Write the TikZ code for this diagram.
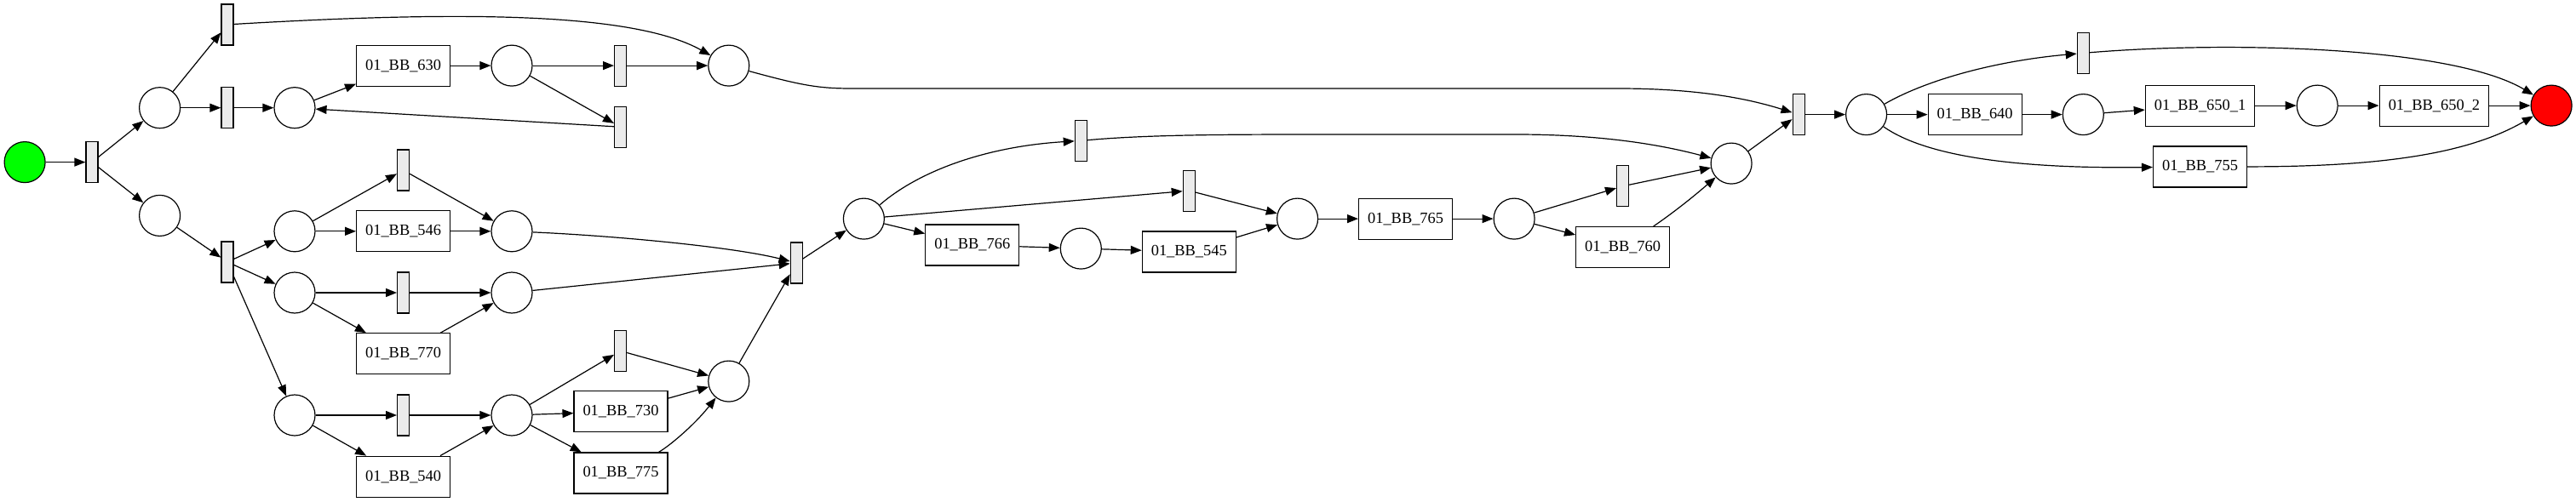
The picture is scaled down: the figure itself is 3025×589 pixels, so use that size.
\documentclass[tikz,border=0pt]{standalone}
\usepackage{fontspec}
\setmainfont{Liberation Serif}
\usetikzlibrary{arrows.meta}
\begin{document}
\begin{tikzpicture}[x=0.5pt,y=-0.5pt,
    every node/.style={font=\fontsize{9.2pt}{11pt}\selectfont},
    place/.style={circle,draw,line width=0.6pt,minimum size=24pt,inner sep=0pt},
    silent/.style={rectangle,draw,line width=0.6pt,fill=black!8,minimum width=7pt,minimum height=24pt,inner sep=0pt},
    task/.style={rectangle,draw,line width=0.6pt,minimum height=24pt,inner xsep=5.25pt,inner ysep=0pt},
    flow/.style={-{Triangle[length=6.5pt,width=5pt]},line width=0.6pt}]
  \useasboundingbox (0,0) rectangle (3025,589);
  \node[place,fill=green] (source) at (29.1,190.6) {};
  \node[silent] (t0) at (108,190.6) {};
  \node[place] (p1) at (187.6,126.7) {};
  \node[place] (p2) at (187.6,253.4) {};
  \node[silent] (t1) at (267,28.9) {};
  \node[silent] (t2) at (267,126.7) {};
  \node[place] (p3) at (346,126.7) {};
  \node[task] (bb630) at (473.6,77.1) {01\_BB\_630};
  \node[place] (p4) at (601,77.1) {};
  \node[silent] (t3) at (728.6,77.1) {};
  \node[silent] (t4) at (728.6,149.2) {};
  \node[place] (p5) at (855.8,77.1) {};
  \node[silent] (t5) at (267,307.9) {};
  \node[place] (p6) at (346,271.8) {};
  \node[silent] (t6) at (473.6,200) {};
  \node[task] (bb546) at (473.6,271.8) {01\_BB\_546};
  \node[place] (p7) at (601,271.8) {};
  \node[place] (p8) at (346,344) {};
  \node[silent] (t7) at (473.6,344) {};
  \node[place] (p9) at (601,344) {};
  \node[task] (bb770) at (473.6,415.8) {01\_BB\_770};
  \node[place] (p10) at (346,488) {};
  \node[silent] (t8) at (473.6,488) {};
  \node[place] (p11) at (601,488) {};
  \node[task] (bb540) at (473.6,560.2) {01\_BB\_540};
  \node[silent] (t9) at (728.6,412.4) {};
  \node[task] (bb730) at (729,483.8) {01\_BB\_730};
  \node[task] (bb775) at (729,556) {01\_BB\_775};
  \node[place] (p12) at (855.8,448.1) {};
  \node[silent] (t10) at (935.3,309) {};
  \node[place] (p13) at (1014.4,257.1) {};
  \node[silent] (t11) at (1269.3,165.4) {};
  \node[silent] (t12) at (1396.3,224.1) {};
  \node[task] (bb766) at (1141.8,288) {01\_BB\_766};
  \node[place] (p14) at (1269.3,292.1) {};
  \node[task] (bb545) at (1396.3,295.9) {01\_BB\_545};
  \node[place] (p15) at (1523.6,257.1) {};
  \node[task] (bb765) at (1650.6,257.1) {01\_BB\_765};
  \node[place] (p16) at (1778.1,257.1) {};
  \node[silent] (t13) at (1905.6,218.8) {};
  \node[task] (bb760) at (1905.6,290.6) {01\_BB\_760};
  \node[place] (p17) at (2033.1,192.1) {};
  \node[silent] (t14) at (2112.1,134.6) {};
  \node[place] (p18) at (2191.6,134.6) {};
  \node[silent] (t15) at (2446.3,62.4) {};
  \node[task] (bb640) at (2319.1,134.6) {01\_BB\_640};
  \node[place] (p19) at (2446.3,134.6) {};
  \node[task] (bb6501) at (2583.5,124.1) {01\_BB\_650\_1};
  \node[place] (p20) at (2721.2,124.1) {};
  \node[task] (bb6502) at (2858.4,124.1) {01\_BB\_650\_2};
  \node[place,fill=red] (sink) at (2996.1,124.1) {};
  \node[task] (bb755) at (2583.5,195.9) {01\_BB\_755};

  \draw[flow] (source) -- (t0);
  \draw[flow] (t0) -- (p1);
  \draw[flow] (t0) -- (p2);
  \draw[flow] (p1) -- (t1);
  \draw[flow] (p1) -- (t2);
  \draw[flow] (t2) -- (p3);
  \draw[flow] (p3) -- (bb630);
  \draw[flow] (bb630) -- (p4);
  \draw[flow] (p4) -- (t3);
  \draw[flow] (p4) -- (t4);
  \draw[flow] (t4) -- (p3);
  \draw[flow] (t3) -- (p5);
  \draw[flow] (t1) .. controls (520,14) and (740,12) .. (p5);
  \draw[flow] (p2) -- (t5);
  \draw[flow] (t5) -- (p6);
  \draw[flow] (t5) -- (p8);
  \draw[flow] (t5) -- (p10);
  \draw[flow] (p6) -- (t6);
  \draw[flow] (p6) -- (bb546);
  \draw[flow] (t6) -- (p7);
  \draw[flow] (bb546) -- (p7);
  \draw[flow] (p8) -- (t7);
  \draw[flow] (p8) -- (bb770);
  \draw[flow] (t7) -- (p9);
  \draw[flow] (bb770) -- (p9);
  \draw[flow] (p7) .. controls (720,277) and (860,290) .. (t10);
  \draw[flow] (p9) -- (t10);
  \draw[flow] (p10) -- (t8);
  \draw[flow] (p10) -- (bb540);
  \draw[flow] (t8) -- (p11);
  \draw[flow] (bb540) -- (p11);
  \draw[flow] (p11) -- (t9);
  \draw[flow] (p11) -- (bb730);
  \draw[flow] (p11) -- (bb775);
  \draw[flow] (t9) -- (p12);
  \draw[flow] (bb730) -- (p12);
  \draw[flow] (bb775) .. controls (785,525) and (815,500) .. (p12);
  \draw[flow] (p12) -- (t10);
  \draw[flow] (t10) -- (p13);
  \draw[flow] (p13) .. controls (1080,200) and (1160,172) .. (t11);
  \draw[flow] (p13) -- (t12);
  \draw[flow] (p13) -- (bb766);
  \draw[flow] (bb766) -- (p14);
  \draw[flow] (p14) -- (bb545);
  \draw[flow] (t12) -- (p15);
  \draw[flow] (bb545) -- (p15);
  \draw[flow] (p15) -- (bb765);
  \draw[flow] (bb765) -- (p16);
  \draw[flow] (p16) -- (t13);
  \draw[flow] (p16) -- (bb760);
  \draw[flow] (t13) -- (p17);
  \draw[flow] (bb760) .. controls (1965,250) and (1990,230) .. (p17);
  \draw[flow] (t11) .. controls (1350,158) and (1450,158) .. (1560,158) -- (1780,158)
    .. controls (1880,158) and (1950,170) .. (p17);
  \draw[flow] (p5) .. controls (940,100) and (960,104) .. (1000,104) -- (1900,104)
    .. controls (1990,104) and (2050,115) .. (t14);
  \draw[flow] (p17) -- (t14);
  \draw[flow] (t14) -- (p18);
  \draw[flow] (p18) .. controls (2260,95) and (2340,72) .. (t15);
  \draw[flow] (p18) -- (bb640);
  \draw[flow] (p18) .. controls (2270,190) and (2400,198) .. (bb755);
  \draw[flow] (bb640) -- (p19);
  \draw[flow] (p19) -- (bb6501);
  \draw[flow] (bb6501) -- (p20);
  \draw[flow] (p20) -- (bb6502);
  \draw[flow] (bb6502) -- (sink);
  \draw[flow] (t15) .. controls (2620,48) and (2880,55) .. (sink);
  \draw[flow] (bb755) .. controls (2800,196) and (2900,180) .. (sink);
\end{tikzpicture}
\end{document}
